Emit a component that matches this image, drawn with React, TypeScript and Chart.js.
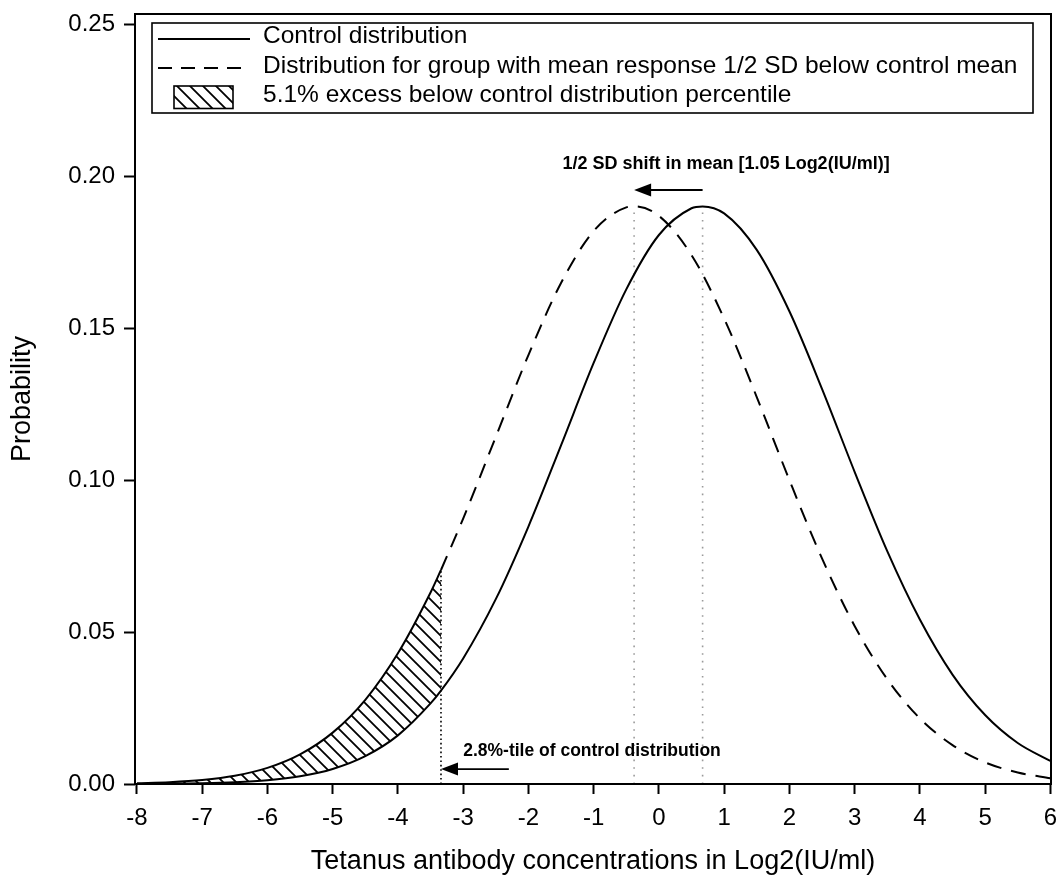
import { useEffect, useRef } from "react";
import { Chart, registerables } from "chart.js";

Chart.register(...registerables);

// Control group density over Log2(IU/ml)
const controlX = [-8, -7.5, -7, -6.5, -6, -5.5, -5, -4.5, -4, -3.5, -3.34, -3, -2.5, -2, -1.5, -1, -0.5, 0, 0.5, 0.67, 1, 1.5, 2, 2.5, 3, 3.5, 4, 4.5, 5, 5.5, 6];
const controlY = [0.00004, 0.0001, 0.00024, 0.00056, 0.00123, 0.00254, 0.00496, 0.00917, 0.016, 0.0265, 0.0307, 0.0413, 0.0608, 0.0847, 0.1114, 0.1385, 0.1627, 0.1806, 0.1894, 0.19, 0.1877, 0.1757, 0.1555, 0.13, 0.1027, 0.0766, 0.0541, 0.036, 0.0227, 0.0135, 0.0076];

// Group whose mean response lies 1/2 SD below the control mean
const shiftedX = [-8, -7.5, -7, -6.5, -6, -5.5, -5, -4.5, -4, -3.5, -3.34, -3, -2.5, -2, -1.5, -1, -0.5, -0.38, 0, 0.5, 1, 1.5, 2, 2.5, 3, 3.5, 4, 4.5, 5, 5.5, 6];
const shiftedY = [0.00026, 0.00061, 0.00132, 0.00272, 0.00529, 0.00973, 0.0169, 0.0277, 0.043, 0.063, 0.0704, 0.0873, 0.1142, 0.1411, 0.1648, 0.1819, 0.1897, 0.19, 0.1869, 0.174, 0.1531, 0.1273, 0.1, 0.0742, 0.052, 0.0345, 0.0216, 0.0128, 0.0071, 0.0038, 0.0019];

const controlMean = 0.67;
const shiftedMean = -0.38;
const percentileCut = -3.34;

const xTicks = [-8, -7, -6, -5, -4, -3, -2, -1, 0, 1, 2, 3, 4, 5, 6];
const yTicks = [0, 0.05, 0.1, 0.15, 0.2, 0.25];

const legendLabels = [
  "Control distribution",
  "Distribution for group with mean response 1/2 SD below control mean",
  "5.1% excess below control distribution percentile",
];
const shiftLabel = "1/2 SD shift in mean [1.05 Log2(IU/ml)]";
const percentileLabel = "2.8%-tile of control distribution";
const xTitle = "Tetanus antibody concentrations in Log2(IU/ml)";
const yTitle = "Probability";

const FONT = '"Liberation Sans", Arial, sans-serif';

type Pt = { x: number; y: number };
const toPoints = (xs: number[], ys: number[]): Pt[] => xs.map((x, i) => ({ x, y: ys[i] }));

function makeHatch(): CanvasPattern | string {
  const s = 13;
  const c = document.createElement("canvas");
  c.width = s;
  c.height = s;
  const g = c.getContext("2d");
  if (!g) return "rgba(0,0,0,0.3)";
  g.strokeStyle = "#000";
  g.lineWidth = 1.8;
  g.beginPath();
  g.moveTo(-1, -1);
  g.lineTo(s + 1, s + 1);
  g.moveTo(-3, s - 3);
  g.lineTo(3, s + 3);
  g.moveTo(s - 3, -3);
  g.lineTo(s + 3, 3);
  g.stroke();
  const p = g.createPattern(c, "repeat");
  return p || "rgba(0,0,0,0.3)";
}

function drawArrow(ctx: CanvasRenderingContext2D, tailX: number, tipX: number, y: number) {
  const headLen = 17;
  const half = 6.5;
  const dir = tipX < tailX ? 1 : -1;
  ctx.save();
  ctx.strokeStyle = "#000";
  ctx.fillStyle = "#000";
  ctx.lineWidth = 1.8;
  ctx.beginPath();
  ctx.moveTo(tailX, y);
  ctx.lineTo(tipX + dir * headLen * 0.8, y);
  ctx.stroke();
  ctx.beginPath();
  ctx.moveTo(tipX, y);
  ctx.lineTo(tipX + dir * headLen, y - half);
  ctx.lineTo(tipX + dir * headLen, y + half);
  ctx.closePath();
  ctx.fill();
  ctx.restore();
}

export default function App() {
  const canvasRef = useRef<HTMLCanvasElement | null>(null);

  useEffect(() => {
    const canvas = canvasRef.current;
    if (!canvas) return;
    const hatch = makeHatch();

    const controlPts = toPoints(controlX, controlY);
    const shiftedPts = toPoints(shiftedX, shiftedY);
    const hatchBottom = controlPts.filter((p) => p.x <= percentileCut);
    const hatchTop = shiftedPts.filter((p) => p.x <= percentileCut);
    const shiftedCurve = shiftedPts.filter((p) => p.x >= percentileCut);
    const controlPeak = controlY[controlX.indexOf(controlMean)];
    const shiftedPeak = shiftedY[shiftedX.indexOf(shiftedMean)];
    const cutTop = shiftedY[shiftedX.indexOf(percentileCut)];

    const notesPlugin = {
      id: "notes",
      afterDatasetsDraw(chart: any) {
        const ctx: CanvasRenderingContext2D = chart.ctx;
        const xs = chart.scales.x;
        const ys = chart.scales.y;
        ctx.save();
        ctx.fillStyle = "#000";
        ctx.font = `bold 18px ${FONT}`;
        ctx.textBaseline = "middle";
        ctx.textAlign = "center";
        ctx.fillText(shiftLabel, xs.getPixelForValue(1.03), ys.getPixelForValue(0.2038));
        drawArrow(ctx, xs.getPixelForValue(controlMean), xs.getPixelForValue(shiftedMean), ys.getPixelForValue(0.1954));
        ctx.font = `bold 17.5px ${FONT}`;
        ctx.textAlign = "left";
        ctx.fillText(percentileLabel, xs.getPixelForValue(-3.0), ys.getPixelForValue(0.0109));
        drawArrow(ctx, xs.getPixelForValue(-2.3), xs.getPixelForValue(percentileCut), ys.getPixelForValue(0.0049));
        ctx.restore();
      },
      afterDraw(chart: any) {
        const ctx: CanvasRenderingContext2D = chart.ctx;
        const a = chart.chartArea;
        ctx.save();
        // plot frame
        ctx.strokeStyle = "#000";
        ctx.lineWidth = 2;
        ctx.strokeRect(a.left, a.top, a.right - a.left, a.bottom - a.top);

        // legend box
        const lx = a.left + 17;
        const ly = a.top + 9;
        const lw = a.right - 18 - lx;
        const lh = 90;
        ctx.fillStyle = "#fff";
        ctx.fillRect(lx, ly, lw, lh);
        ctx.lineWidth = 1.6;
        ctx.strokeRect(lx, ly, lw, lh);

        const rows = [ly + 13.5, ly + 43, ly + 72.5];
        const sx0 = lx + 6;
        const sx1 = lx + 98;
        ctx.lineWidth = 1.8;
        ctx.beginPath();
        ctx.moveTo(sx0, rows[0] + 2.5);
        ctx.lineTo(sx1, rows[0] + 2.5);
        ctx.stroke();
        ctx.setLineDash([14, 9]);
        ctx.beginPath();
        ctx.moveTo(sx0, rows[1] + 2);
        ctx.lineTo(sx1, rows[1] + 2);
        ctx.stroke();
        ctx.setLineDash([]);
        const bx = lx + 22;
        const by = rows[2] - 9.5;
        ctx.fillStyle = hatch as any;
        ctx.fillRect(bx, by, 59, 22.5);
        ctx.lineWidth = 1.6;
        ctx.strokeRect(bx, by, 59, 22.5);

        ctx.fillStyle = "#000";
        ctx.font = `24.5px ${FONT}`;
        ctx.textAlign = "left";
        ctx.textBaseline = "middle";
        legendLabels.forEach((t, i) => ctx.fillText(t, lx + 111, rows[i]));
        ctx.restore();
      },
    };

    const curve = {
      type: "line" as const,
      pointRadius: 0,
      borderColor: "#000",
      borderWidth: 2,
      cubicInterpolationMode: "monotone" as const,
      fill: false,
    };
    const guide = {
      type: "line" as const,
      pointRadius: 0,
      borderWidth: 1.6,
      borderCapStyle: "butt" as const,
      tension: 0,
      fill: false,
    };

    const chart = new Chart(canvas, {
      type: "line",
      data: {
        datasets: [
          { ...curve, label: "hatch-base", data: hatchBottom, borderWidth: 0 },
          { ...curve, label: "hatch", data: hatchTop, fill: 0, backgroundColor: hatch as any },
          { ...curve, label: legendLabels[0], data: controlPts },
          { ...curve, label: legendLabels[1], data: shiftedCurve, borderDash: [15, 10] },
          { ...guide, label: "shifted mean", data: [{ x: shiftedMean, y: 0 }, { x: shiftedMean, y: shiftedPeak }], borderColor: "#9a9a9a", borderDash: [1.6, 6] },
          { ...guide, label: "control mean", data: [{ x: controlMean, y: 0 }, { x: controlMean, y: controlPeak }], borderColor: "#9a9a9a", borderDash: [1.6, 6] },
          { ...guide, label: "percentile", data: [{ x: percentileCut, y: 0 }, { x: percentileCut, y: cutTop }], borderColor: "#000", borderDash: [1.6, 2.8] },
        ] as any,
      },
      options: {
        animation: false,
        responsive: false,
        parsing: false as any,
        layout: { padding: { top: 14, right: 7, left: 0, bottom: 0 } },
        plugins: {
          legend: { display: false },
          tooltip: { enabled: false },
        },
        scales: {
          x: {
            type: "linear",
            min: -8.03,
            max: 6.01,
            border: { display: false },
            grid: { display: true, drawOnChartArea: false, drawTicks: true, tickLength: 10, tickWidth: 2, tickColor: "#000", color: "#000" },
            afterBuildTicks: (s: any) => {
              s.ticks = xTicks.map((v) => ({ value: v }));
            },
            afterFit: (s: any) => {
              s.height = 91;
              s.paddingLeft = 0;
              s.paddingRight = 0;
            },
            ticks: {
              color: "#000",
              font: { family: FONT, size: 24 },
              padding: 10,
              maxRotation: 0,
              autoSkip: false,
              callback: (v: any) => String(v),
            },
            title: {
              display: true,
              text: xTitle,
              color: "#000",
              font: { family: FONT, size: 27, lineHeight: 1 },
              padding: { top: 0, bottom: 0 },
            },
          },
          y: {
            type: "linear",
            min: 0,
            max: 0.2533,
            border: { display: false },
            grid: { display: true, drawOnChartArea: false, drawTicks: true, tickLength: 11, tickWidth: 2, tickColor: "#000", color: "#000" },
            afterBuildTicks: (s: any) => {
              s.ticks = yTicks.map((v) => ({ value: v }));
            },
            afterFit: (s: any) => {
              s.width = 135;
              s.paddingTop = 0;
              s.paddingBottom = 0;
            },
            ticks: {
              color: "#000",
              font: { family: FONT, size: 24 },
              padding: 9,
              autoSkip: false,
              callback: (v: any) => Number(v).toFixed(2),
            },
            title: {
              display: true,
              text: yTitle,
              color: "#000",
              font: { family: FONT, size: 27, lineHeight: 1 },
              padding: { top: 9, bottom: 0 },
            },
          },
        },
      },
      plugins: [notesPlugin],
    });

    return () => chart.destroy();
  }, []);

  return (
    <div style={{ position: "fixed", left: 0, top: 0, width: 1058, height: 875, background: "#fff" }}>
      <canvas ref={canvasRef} width={1058} height={875} style={{ display: "block" }} />
    </div>
  );
}
